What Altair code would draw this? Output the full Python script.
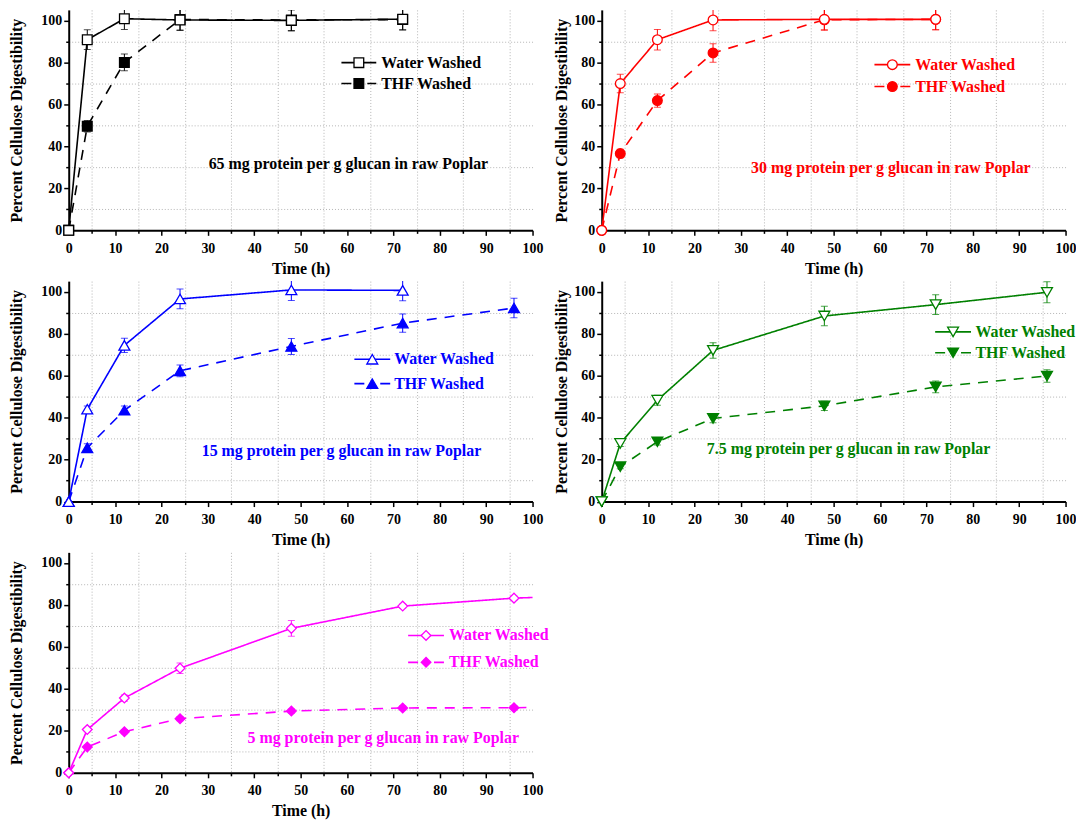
import altair as alt
import pandas as pd

# ---------------- data ----------------
TIMES = [0, 4, 12, 24, 48, 72, 96, 120]
SERIES = ["Water Washed", "THF Washed"]
NOTES = [
    "65 mg protein per g glucan in raw Poplar",
    "30 mg protein per g glucan in raw Poplar",
    "15 mg protein per g glucan in raw Poplar",
    "7.5 mg protein per g glucan in raw Poplar",
    "5 mg protein per g glucan in raw Poplar",
]
COLORS = ["#000000", "#ff0000", "#0000ff", "#008000", "#ff00ff"]
SHAPES = ["square", "circle", "triangle-up", "triangle-down", "diamond"]

water_65 = [0, 90.8, 100.8, 100.2, 100.0, 100.6]
water_65_err = [0, 4.7, 5.1, 5.0, 5.0, 5.0]
thf_65 = [0, 49.6, 80.0, 100.4, 100.2, 100.4]
thf_65_err = [0, 2.7, 4.0, 5.0, 5.0, 5.0]

water_30 = [0, 69.9, 90.8, 100.2, 100.5, 100.5]
water_30_err = [0, 4.4, 4.9, 5.1, 5.0, 5.0]
thf_30 = [0, 36.6, 61.8, 84.5, 100.3, 100.5]
thf_30_err = [0, 2.0, 3.2, 4.4, 5.0, 5.0]

water_15 = [0, 44.0, 74.4, 96.5, 100.8, 100.6]
water_15_err = [0, 1.5, 3.4, 4.7, 5.0, 5.0]
thf_15 = [0, 25.6, 43.5, 62.3, 73.9, 85.0, 92.2]
thf_15_err = [0, 2.0, 2.0, 2.8, 3.8, 4.4, 4.7]

water_75 = [0, 27.7, 48.3, 72.0, 88.4, 93.8, 99.7]
water_75_err = [0, 1.5, 2.4, 3.7, 4.6, 4.7, 5.0]
thf_75 = [0, 16.6, 28.5, 39.6, 45.6, 54.6, 59.8]
thf_75_err = [0, 1.0, 1.5, 2.0, 2.2, 2.8, 3.0]

water_5 = [0, 20.6, 35.6, 49.8, 68.8, 79.4, 83.2, 85.0]
water_5_err = [0, 1.0, 1.5, 2.5, 3.7, 1.0, 1.0, 0]
thf_5 = [0, 12.3, 19.6, 25.8, 29.4, 30.9, 31.0, 32.0]
thf_5_err = [0, 1.0, 1.0, 1.0, 1.0, 1.0, 1.0, 0]

# ---------------- style ----------------
FONT = "Liberation Serif"
W, H = 466, 221.5
X_TICKS = list(range(0, 101, 5))
Y_TICKS = list(range(0, 101, 10))


def make_frame(values, errors):
    return pd.DataFrame({"t": TIMES[: len(values)], "v": values, "e": errors})


def panel(i, water, water_err, thf, thf_err, leg, note, left_col, clip_lines=False):
    color = COLORS[i]
    shape = SHAPES[i]
    size = 120 if "triangle" in shape else 95
    xscale = alt.Scale(domain=[0, 100], nice=False, zero=False)
    yscale = alt.Scale(domain=[0, 105], nice=False, zero=False)
    xaxis = alt.Axis(
        values=X_TICKS,
        title="Time (h)",
        labelExpr="datum.value % 10 === 0 ? datum.label : ''",
        tickSize={"condition": {"test": "datum.value % 10 === 0", "value": 5}, "value": 3},
        gridOpacity={"condition": {"test": "datum.value % 10 !== 0", "value": 1}, "value": 0},
        grid=True,
        labelFlush=False,
        labelPadding=6,
        titlePadding=5,
    )
    yaxis = alt.Axis(
        values=Y_TICKS,
        title="Percent Cellulose Digestibility",
        labelExpr="datum.value % 20 === 0 ? datum.label : ''",
        tickSize={"condition": {"test": "datum.value % 20 === 0", "value": 5}, "value": 3},
        gridOpacity={"condition": {"test": "datum.value % 20 !== 0", "value": 1}, "value": 0},
        grid=True,
        labelFlush=False,
        labelPadding=2,
        titlePadding=16 if left_col else 4,
    )
    X = alt.X("t:Q", scale=xscale, axis=xaxis)
    Y = alt.Y("v:Q", scale=yscale, axis=yaxis)
    Ylo = alt.Y("lo:Q", scale=yscale, axis=yaxis)
    Yhi = alt.Y("hi:Q", scale=yscale, axis=yaxis)

    layers = []
    for name, vals, errs, fill, dash in [
        (SERIES[1], thf, thf_err, color, [10, 8]),
        (SERIES[0], water, water_err, "white", [1, 0]),
    ]:
        base = alt.Chart(make_frame(vals, errs))
        layers.append(
            base.mark_line(color=color, strokeWidth=1.6, strokeDash=dash, clip=clip_lines).encode(x=X, y=Y)
        )
        eb = (
            base.transform_filter("datum.e > 0 && datum.t <= 100")
            .transform_calculate(lo="datum.v - datum.e", hi="datum.v + datum.e")
        )
        layers.append(eb.mark_rule(color=color, strokeWidth=1, clip=True).encode(x=X, y=Ylo, y2="hi:Q"))
        layers.append(eb.mark_tick(color=color, orient="horizontal", size=7, thickness=1, clip=True).encode(x=X, y=Ylo))
        layers.append(eb.mark_tick(color=color, orient="horizontal", size=7, thickness=1, clip=True).encode(x=X, y=Yhi))
        layers.append(
            base.transform_filter("datum.t <= 100")
            .mark_point(shape=shape, filled=True, fill=fill, stroke=color, strokeWidth=1.3, size=size, opacity=1)
            .encode(x=X, y=Y)
        )

    # legend (drawn inside the plot)
    lx0, lx1, mx, tx, yw, yt = leg
    dummy = alt.Chart(alt.Data(values=[{"k": 1}]))
    for name, ly, fill, dash in [
        (SERIES[0], yw, "white", [1, 0]),
        (SERIES[1], yt, color, [10, 16]),
    ]:
        layers.append(
            dummy.mark_rule(color=color, strokeWidth=1.6, strokeDash=dash).encode(
                x=alt.value(lx0), x2=alt.value(lx1), y=alt.value(ly)
            )
        )
        layers.append(
            dummy.mark_point(shape=shape, filled=True, fill=fill, stroke=color, strokeWidth=1.3, size=size, opacity=1).encode(
                x=alt.value(mx), y=alt.value(ly)
            )
        )
        layers.append(
            dummy.mark_text(align="left", baseline="middle", font=FONT, fontSize=16, fontWeight="bold", color=color).encode(
                x=alt.value(tx), y=alt.value(ly), text=alt.value(name)
            )
        )
    nx, ny = note
    layers.append(
        dummy.mark_text(align="center", baseline="middle", font=FONT, fontSize=16, fontWeight="bold", color=color).encode(
            x=alt.value(nx), y=alt.value(ny), text=alt.value(NOTES[i])
        )
    )
    return alt.layer(*layers).properties(width=W, height=H)


p1 = panel(0, water_65, water_65_err, thf_65, thf_65_err, (274, 309, 291.5, 314, 53, 74), (281, 155), True)
p2 = panel(1, water_30, water_30_err, thf_30, thf_30_err, (274, 310, 292, 315, 55, 77), (290.5, 158.5), False)
p3 = panel(2, water_15, water_15_err, thf_15, thf_15_err, (287, 323, 305, 327, 78.5, 103), (274, 170.5), True)
p4 = panel(3, water_75, water_75_err, thf_75, thf_75_err, (335, 371, 353, 375.5, 51, 72), (248, 169), False)
p5 = panel(4, water_5, water_5_err, thf_5, thf_5_err, (341, 377, 359, 382, 83.5, 110.5), (316, 186.5), True, clip_lines=True)

row1 = alt.hconcat(p1, p2, spacing=10.5)
row2 = alt.hconcat(p3, p4, spacing=10.5)

chart = (
    alt.vconcat(row1, row2, p5, spacing=4.5)
    .properties(padding={"left": 1, "top": 0, "right": 0, "bottom": 0})
    .configure_view(stroke=None)
    .configure_axis(
        domainColor="black",
        domainWidth=2,
        tickColor="black",
        tickWidth=1.5,
        labelFont=FONT,
        labelFontSize=14,
        labelFontWeight="bold",
        labelColor="black",
        titleFont=FONT,
        titleFontSize=16,
        titleFontWeight="bold",
        titleColor="black",
        gridColor="#b4b4b4",
        gridDash=[1, 2],
        gridWidth=1,
    )
)

chart.save("out.html", embed_options={"renderer": "svg", "actions": False})
